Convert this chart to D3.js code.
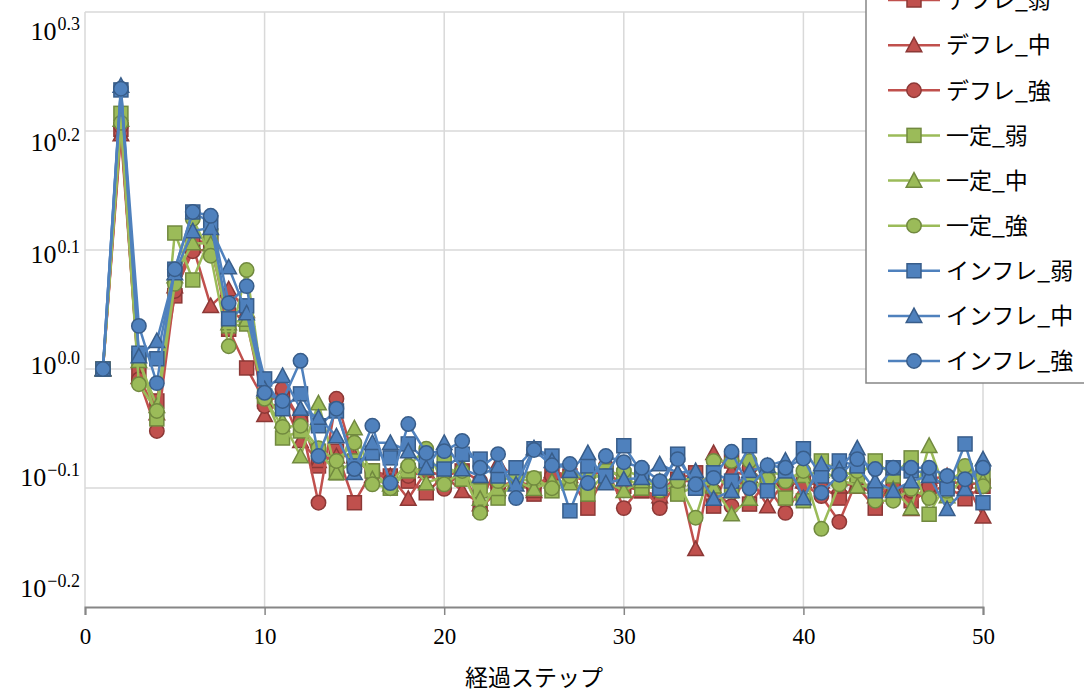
<!DOCTYPE html>
<html><head><meta charset="utf-8">
<script src="https://cdn.jsdelivr.net/npm/d3@7"></script>
<style>
html,body{margin:0;padding:0;background:#fff;}
svg{display:block;}
</style></head><body>
<svg id="chart" width="1084" height="692"></svg>
<script>
const steps = d3.range(1, 51);
const seriesNames = ["デフレ_弱","デフレ_中","デフレ_強","一定_弱","一定_中","一定_強","インフレ_弱","インフレ_中","インフレ_強"];
const deflWeak = [1.0,1.59,0.99,0.94,1.152,1.28,1.28,1.08,1.002,0.94,0.949,0.908,0.829,0.853,0.772,0.821,0.813,0.805,0.787,0.813,0.821,0.764,0.790,0.808,0.785,0.816,0.813,0.764,0.821,0.797,0.790,0.775,0.808,0.818,0.767,0.837,0.770,0.805,0.797,0.805,0.797,0.779,0.797,0.764,0.805,0.775,0.790,0.797,0.778,0.797];
const deflMid = [1.0,1.575,0.985,0.918,1.174,1.269,1.130,1.167,1.119,0.915,0.944,0.870,0.837,0.845,0.845,0.813,0.813,0.778,0.821,0.813,0.790,0.770,0.834,0.808,0.790,0.821,0.813,0.805,0.829,0.805,0.790,0.782,0.818,0.706,0.850,0.821,0.813,0.767,0.808,0.805,0.805,0.797,0.802,0.782,0.797,0.763,0.808,0.813,0.805,0.752];
const deflStrong = [1.0,1.60,0.98,0.887,1.163,1.256,1.261,1.119,1.097,0.931,0.962,0.904,0.772,0.944,0.837,0.821,0.805,0.813,0.821,0.793,0.821,0.805,0.797,0.805,0.797,0.813,0.810,0.813,0.829,0.764,0.797,0.764,0.805,0.805,0.790,0.767,0.826,0.797,0.757,0.800,0.782,0.744,0.808,0.790,0.797,0.790,0.797,0.808,0.797,0.805];
const flatWeak = [1.0,1.64,1.02,0.908,1.301,1.188,1.294,1.087,1.091,0.949,0.875,0.887,0.853,0.818,0.837,0.821,0.794,0.821,0.826,0.834,0.808,0.790,0.779,0.805,0.808,0.790,0.808,0.785,0.821,0.813,0.794,0.797,0.785,0.797,0.818,0.790,0.805,0.813,0.779,0.775,0.837,0.821,0.813,0.837,0.813,0.842,0.755,0.805,0.821,0.813];
const flatMid = [1.0,1.62,1.016,0.931,1.197,1.276,1.274,1.093,1.10,0.958,0.904,0.845,0.936,0.818,0.892,0.808,0.800,0.837,0.802,0.813,0.829,0.778,0.793,0.805,0.793,0.805,0.802,0.821,0.805,0.790,0.805,0.805,0.808,0.808,0.797,0.755,0.778,0.821,0.813,0.813,0.821,0.808,0.797,0.797,0.793,0.764,0.862,0.782,0.813,0.805];
const flatStrong = [1.0,1.61,0.971,0.922,1.179,1.337,1.245,1.045,1.211,0.944,0.894,0.896,0.858,0.837,0.867,0.800,0.794,0.829,0.857,0.800,0.821,0.757,0.805,0.813,0.810,0.794,0.813,0.813,0.813,0.821,0.813,0.790,0.805,0.750,0.837,0.837,0.837,0.808,0.805,0.821,0.734,0.800,0.821,0.775,0.775,0.793,0.779,0.790,0.829,0.797];
const inflWeak = [1.0,1.716,1.031,1.020,1.213,1.355,1.327,1.102,1.130,0.981,0.926,0.953,0.896,0.922,0.829,0.850,0.842,0.865,0.837,0.824,0.848,0.840,0.813,0.826,0.857,0.845,0.760,0.829,0.813,0.862,0.818,0.794,0.848,0.794,0.818,0.805,0.862,0.790,0.821,0.857,0.813,0.837,0.829,0.790,0.826,0.821,0.818,0.793,0.865,0.772];
const inflMid = [1.0,1.73,1.025,1.056,1.204,1.306,1.314,1.218,1.114,0.962,0.987,0.926,0.910,0.878,0.818,0.867,0.867,0.853,0.826,0.867,0.824,0.813,0.829,0.800,0.858,0.837,0.821,0.850,0.802,0.808,0.810,0.832,0.818,0.821,0.778,0.790,0.821,0.829,0.838,0.779,0.832,0.824,0.858,0.805,0.790,0.805,0.813,0.763,0.793,0.840];
const inflStrong = [1.0,1.72,1.087,0.973,1.213,1.355,1.345,1.136,1.174,0.955,0.940,1.016,0.845,0.926,0.824,0.896,0.802,0.899,0.850,0.853,0.870,0.826,0.848,0.779,0.855,0.830,0.832,0.802,0.845,0.835,0.826,0.805,0.840,0.800,0.810,0.852,0.794,0.830,0.826,0.841,0.787,0.815,0.840,0.824,0.826,0.826,0.826,0.813,0.808,0.826];
const xTicks = [0,10,20,30,40,50];
const yTickExponents = [0.3,0.2,0.1,0.0,-0.1,-0.2];
const yTickLabels = ["0.3","0.2","0.1","0.0","\u22120.1","\u22120.2"];
const xTitle = "経過ステップ";

(function(){
const allValues = [deflWeak,deflMid,deflStrong,flatWeak,flatMid,flatStrong,inflWeak,inflMid,inflStrong];
const lineColors = ["#C0504D","#C0504D","#C0504D","#9BBB59","#9BBB59","#9BBB59","#4F81BD","#4F81BD","#4F81BD"];
const edgeColors = ["#8C3836","#8C3836","#8C3836","#71893F","#71893F","#71893F","#385D8A","#385D8A","#385D8A"];
const shapes = ["square","triangle","circle","square","triangle","circle","square","triangle","circle"];

const svg = d3.select("#chart");
const pLeft = 85, pRight = 983, pTop = 12, pBottom = 607;
const x = d3.scaleLinear().domain([0,50]).range([pLeft,pRight]);
const y = d3.scaleLog().domain([Math.pow(10,-0.2), Math.pow(10,0.3)]).range([pBottom, pTop]);
const labelBase = d3.scaleLinear().domain([0.3,-0.2]).range([40,597]);

const grid = svg.append("g");
yTickExponents.forEach(e => {
  if (e === -0.2) return;
  grid.append("line").attr("x1",pLeft).attr("x2",pRight)
    .attr("y1",y(Math.pow(10,e))).attr("y2",y(Math.pow(10,e)))
    .attr("stroke","#D9D9D9").attr("stroke-width",1.5);
});
xTicks.forEach(t => {
  grid.append("line").attr("x1",x(t)).attr("x2",x(t))
    .attr("y1",pTop).attr("y2",pBottom)
    .attr("stroke","#D9D9D9").attr("stroke-width",1.5);
});

const xAxis = d3.axisBottom(x).tickValues(xTicks).tickSize(8).tickPadding(10).tickSizeOuter(8);
const gx = svg.append("g").attr("transform",`translate(0,${pBottom})`).call(xAxis);
gx.select(".domain").attr("stroke","#868686").attr("stroke-width",2);
gx.selectAll(".tick line").attr("stroke","#868686").attr("stroke-width",1.5);
gx.selectAll(".tick text").attr("font-family","'Liberation Serif','DejaVu Serif',serif")
  .attr("font-size",23).attr("fill","#000").attr("dy","0.82em");

const gy = svg.append("g");
yTickExponents.forEach((e,i) => {
  const t = gy.append("text").attr("x",80).attr("y",labelBase(e))
    .attr("text-anchor","end")
    .attr("font-family","'Liberation Serif','DejaVu Serif',serif")
    .attr("fill","#000");
  t.append("tspan").attr("font-size",26).text("10");
  t.append("tspan").attr("font-size",18).attr("dy",-10).attr("dx",1).text(yTickLabels[i]);
});

svg.append("text").attr("x",534).attr("y",686).attr("text-anchor","middle")
  .attr("font-family","'Noto Sans CJK JP','Noto Sans',sans-serif").attr("font-size",23)
  .attr("fill","#000").text(xTitle);

function drawMarker(g, shape, cx, cy, fill, stroke) {
  if (shape === "square") {
    g.append("rect").attr("x",cx-7).attr("y",cy-7).attr("width",14).attr("height",14)
      .attr("fill",fill).attr("stroke",stroke).attr("stroke-width",1.5);
  } else if (shape === "circle") {
    g.append("circle").attr("cx",cx).attr("cy",cy).attr("r",7.2)
      .attr("fill",fill).attr("stroke",stroke).attr("stroke-width",1.5);
  } else {
    const h = 7.8;
    g.append("path").attr("d",`M${cx},${cy-h}L${cx+h},${cy+h*0.85}L${cx-h},${cy+h*0.85}Z`)
      .attr("fill",fill).attr("stroke",stroke).attr("stroke-width",1.5);
  }
}

const line = d3.line().x(d => x(d[0])).y(d => y(d[1]));
allValues.forEach((vals,si) => {
  const g = svg.append("g");
  const pts = steps.map((s,i) => [s, vals[i]]);
  g.append("path").attr("d", line(pts)).attr("fill","none")
    .attr("stroke",lineColors[si]).attr("stroke-width",2.5).attr("stroke-linejoin","round");
  pts.forEach(p => drawMarker(g, shapes[si], x(p[0]), y(p[1]), lineColors[si], edgeColors[si]));
});

const lg = svg.append("g");
lg.append("rect").attr("x",866).attr("y",-30).attr("width",240).attr("height",413)
  .attr("fill","#fff").attr("stroke","#868686").attr("stroke-width",1.5);
const legY = d3.scaleLinear().domain([0,8]).range([0,361]);
seriesNames.forEach((name,i) => {
  const cy = legY(i);
  lg.append("line").attr("x1",888).attr("x2",940).attr("y1",cy).attr("y2",cy)
    .attr("stroke",lineColors[i]).attr("stroke-width",2.5);
  drawMarker(lg, shapes[i], 914, cy, lineColors[i], edgeColors[i]);
  lg.append("text").attr("x",946).attr("y",cy).attr("dy","0.36em")
    .attr("font-family","'Noto Sans CJK JP','Noto Sans',sans-serif").attr("font-size",23)
    .attr("fill","#000").text(name);
});
})();
</script>
</body></html>
